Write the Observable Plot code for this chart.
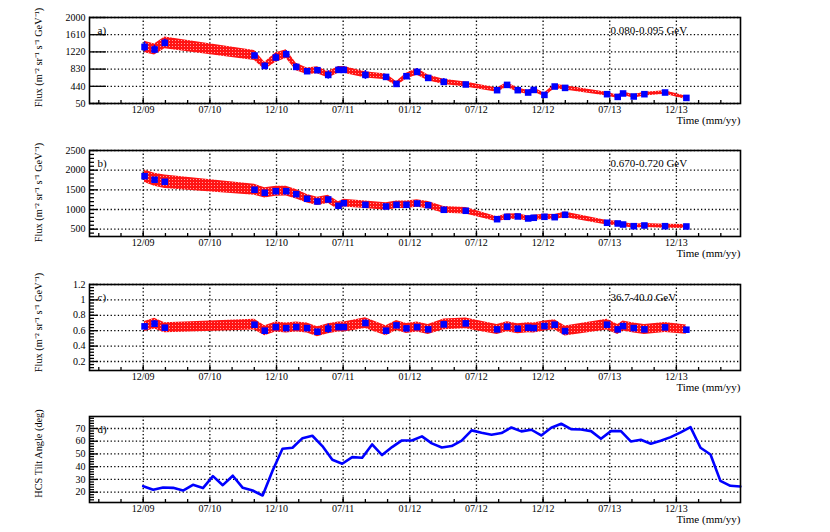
<!DOCTYPE html>
<html><head><meta charset="utf-8">
<script src="https://cdn.jsdelivr.net/npm/d3@7"></script>
<script src="https://cdn.jsdelivr.net/npm/@observablehq/plot@0.6"></script>
<style>
body{margin:0;background:#fff}
#c{position:relative;width:830px;height:532px;overflow:hidden}
#c svg.p{position:absolute;left:0}
</style>
</head><body>
<svg width="0" height="0" style="position:absolute">
<defs>
<pattern id="redpat" patternUnits="userSpaceOnUse" width="3" height="3">
<rect width="3" height="3" fill="#ff1414"/>
<rect x="1" y="1" width="1" height="1" fill="#ffa0a0"/>
</pattern>
</defs>
</svg>
<div id="c"></div>
<script>
// ---- axes ----
const xTickPos = [2010, 2010.5, 2011, 2011.5, 2012, 2012.5, 2013, 2013.5, 2014];
const xTickLabels = ["12/09","07/10","12/10","07/11","01/12","07/12","12/12","07/13","12/13"];
const xDomain = [2009.597, 2014.481];

// ---- flux data (time in decimal years) ----
const fluxTimes = [2010.010,2010.085,2010.162,2010.835,2010.912,2010.995,2011.073,2011.148,2011.230,2011.307,2011.388,2011.465,2011.505,2011.667,2011.822,2011.900,2011.975,2012.055,2012.138,2012.255,2012.420,2012.655,2012.730,2012.810,2012.888,2012.930,2013.010,2013.087,2013.165,2013.480,2013.560,2013.600,2013.680,2013.760,2013.915,2014.075];

const fluxA = [1333,1274,1424,1138,902,1093,1168,880,782,805,698,812,812,698,653,494,669,766,630,540,481,352,472,352,299,358,245,435,404,261,200,277,209,261,299,177];
const bandA = [130,125,135,115,85,105,100,85,75,78,70,78,78,70,66,55,65,75,65,60,55,48,55,48,45,48,42,50,48,42,38,42,38,42,42,36];
const errA  = [110,95,80,70,70,85,80,70,60,60,95,70,70,100,50,40,50,80,50,75,40,25,30,25,25,25,25,30,30,25,25,25,25,25,25,20];

const fluxB = [1847,1756,1705,1502,1425,1466,1466,1390,1273,1204,1255,1095,1161,1120,1077,1120,1120,1153,1110,993,968,754,815,823,772,790,815,805,866,663,645,619,576,594,576,569];
const bandB = [160,165,170,140,130,128,125,120,110,105,105,100,98,95,95,95,95,95,92,85,80,65,68,68,66,66,66,66,68,55,55,53,52,52,52,51];
const errB  = [40,40,35,35,35,35,35,30,30,30,30,30,30,30,30,30,30,30,30,25,25,20,20,20,20,20,20,20,20,18,18,18,18,18,18,18];

const fluxC = [0.656,0.691,0.639,0.678,0.600,0.647,0.634,0.647,0.634,0.587,0.626,0.647,0.647,0.699,0.600,0.669,0.630,0.647,0.617,0.682,0.695,0.617,0.652,0.626,0.639,0.634,0.660,0.678,0.595,0.678,0.617,0.660,0.634,0.617,0.643,0.613];
const bandC = [0.065,0.07,0.065,0.07,0.065,0.065,0.065,0.065,0.065,0.065,0.065,0.065,0.065,0.07,0.065,0.065,0.065,0.065,0.065,0.07,0.07,0.065,0.065,0.065,0.065,0.065,0.065,0.065,0.065,0.07,0.065,0.065,0.065,0.065,0.065,0.06];
const errC  = [0.03,0.04,0.02,0.03,0.03,0.03,0.02,0.02,0.02,0.03,0.06,0.03,0.03,0.04,0.02,0.03,0.03,0.03,0.02,0.04,0.03,0.02,0.02,0.02,0.02,0.02,0.02,0.03,0.03,0.03,0.03,0.03,0.02,0.03,0.03,0.02];

// ---- HCS tilt angle (one value per Carrington rotation) ----
const tiltTimes = [2010.000,2010.075,2010.149,2010.224,2010.299,2010.373,2010.448,2010.523,2010.597,2010.672,2010.747,2010.821,2010.896,2010.971,2011.045,2011.120,2011.195,2011.269,2011.344,2011.419,2011.493,2011.568,2011.643,2011.717,2011.792,2011.867,2011.941,2012.016,2012.091,2012.165,2012.240,2012.314,2012.389,2012.464,2012.538,2012.613,2012.688,2012.762,2012.837,2012.912,2012.986,2013.061,2013.136,2013.210,2013.285,2013.360,2013.434,2013.509,2013.584,2013.658,2013.733,2013.808,2013.882,2013.957,2014.032,2014.106,2014.181,2014.256,2014.330,2014.405,2014.480];
const tiltValues = [24.7,21.9,23.7,23.4,21.3,25.8,23.2,32.6,25.5,32.9,23.4,21.3,17.4,37.0,54.1,54.9,62.4,64.3,56.2,45.4,42.3,47.5,47.0,57.5,49.1,55.4,60.6,60.6,63.8,58.3,55.1,56.2,60.4,68.5,66.6,65.1,66.4,70.8,67.7,69.0,64.5,70.6,73.7,69.5,69.2,67.9,61.9,67.9,67.9,59.8,61.1,58.0,60.4,63.2,66.9,71.1,54.9,49.6,28.9,25.0,24.5];

const rows = (vals, band, err) => fluxTimes.map((t, i) => ({t, v: vals[i], b: band[i], e: err[i]}));
const tiltRows = tiltTimes.map((t, i) => ({t, v: tiltValues[i]}));

const xMinor = d3.range(2009.6667, 2014.45, 1/6);
const BLUE = "#0000ff";
const FONT = "'Liberation Serif', 'Times New Roman', serif";

function panel({top, yDomain, yTicks, yMinor, majorLen, marks, yLabel, yLabelDy, tag, energy}) {
  const W = 830, H = 133, mT = 17, mB = 30, mL = 89, mR = 90;
  const fh = H - mT - mB, fw = W - mL - mR;
  const xs = (xDomain[1] - xDomain[0]) / fw;
  const ys = (yDomain[1] - yDomain[0]) / fh;
  const tk = {stroke: "black", strokeWidth: 1.3};
  const grid = {stroke: "black", strokeOpacity: 1, strokeWidth: 1.3, strokeDasharray: "1.3,2.3"};
  const svg = Plot.plot({
    width: W, height: H, marginTop: mT, marginBottom: mB, marginLeft: mL, marginRight: mR,
    x: {domain: xDomain, label: null},
    y: {domain: yDomain, label: null},
    style: {fontFamily: FONT, fontSize: "10px", color: "black", background: "transparent"},
    marks: [
      Plot.gridX(xTickPos, grid),
      Plot.gridY(yTicks, grid),
      ...marks,
      Plot.ruleY(yTicks, {x1: xDomain[0], x2: xDomain[0] + majorLen * xs, ...tk}),
      yMinor ? Plot.ruleY(yMinor, {x1: xDomain[0], x2: xDomain[0] + 5 * xs, ...tk}) : null,
      Plot.ruleX(xTickPos, {y1: yDomain[0], y2: yDomain[0] + 5 * ys, ...tk}),
      Plot.ruleX(xMinor, {y1: yDomain[0], y2: yDomain[0] + 3 * ys, ...tk}),
      Plot.axisX(xTickPos, {tickSize: 0, tickPadding: 2, fontSize: 10, label: null, fontFamily: FONT,
        tickFormat: d => xTickLabels[xTickPos.indexOf(d)]}),
      Plot.axisY(yTicks, {tickSize: 0, tickPadding: 4, fontSize: 10, label: null, fontFamily: FONT, tickFormat: d => String(d)}),
      Plot.text([yLabel], {frameAnchor: "left", textAnchor: "middle", rotate: -90, dx: -51, dy: yLabelDy, fontSize: 10.3, fill: "black", fontFamily: FONT}),
      Plot.text(["Time (mm/yy)"], {frameAnchor: "bottom-right", textAnchor: "end", lineAnchor: "top", dy: 13, fontSize: 11, fill: "black", fontFamily: FONT}),
      Plot.text([tag], {frameAnchor: "top-left", textAnchor: "start", lineAnchor: "top", dx: 8, dy: 9, fontSize: 11, fill: "black", fontFamily: FONT}),
      energy ? Plot.text([energy], {frameAnchor: "top-left", textAnchor: "start", lineAnchor: "top", dx: 521, dy: 8.5, fontSize: 11, fill: "black", fontFamily: FONT}) : null,
      Plot.frame({stroke: "black", strokeWidth: 1.6})
    ]
  });
  svg.classList.add("p");
  svg.style.top = top + "px";
  document.getElementById("c").appendChild(svg);
}

function fluxMarks(data) {
  return [
    Plot.areaY(data, {x: "t", y1: d => d.v - d.b, y2: d => d.v + d.b, fill: "url(#redpat)"}),
    Plot.ruleX(data, {x: "t", y1: d => d.v - d.e, y2: d => d.v + d.e, stroke: BLUE, strokeWidth: 1.6}),
    Plot.dot(data, {x: "t", y: "v", symbol: "square", r: 3.7, fill: BLUE, stroke: null})
  ];
}

const fluxLabel = "Flux (m\u207B\u00B2 sr\u207B\u00B9 s\u207B\u00B9 GeV\u207B\u00B9)";

panel({top: 0, yDomain: [50, 2000], yTicks: [50, 440, 830, 1220, 1610, 2000], yMinor: null, majorLen: 17,
  marks: fluxMarks(rows(fluxA, bandA, errA)), yLabel: fluxLabel, yLabelDy: -3, tag: "a)", energy: "0.080-0.095 GeV"});

panel({top: 133, yDomain: [314, 2500], yTicks: [500, 1000, 1500, 2000, 2500], yMinor: d3.range(400, 2500, 100), majorLen: 9,
  marks: fluxMarks(rows(fluxB, bandB, errB)), yLabel: fluxLabel, yLabelDy: -1, tag: "b)", energy: "0.670-0.720 GeV"});

panel({top: 267, yDomain: [0.083, 1.2], yTicks: [0.2, 0.4, 0.6, 0.8, 1, 1.2], yMinor: d3.range(0.12, 1.2, 0.04), majorLen: 9,
  marks: fluxMarks(rows(fluxC, bandC, errC)), yLabel: fluxLabel, yLabelDy: -5, tag: "c)", energy: "36.7-40.0 GeV"});

panel({top: 399, yDomain: [11.9, 79.4], yTicks: [20, 30, 40, 50, 60, 70], yMinor: d3.range(14, 80, 2), majorLen: 9,
  marks: [Plot.line(tiltRows, {x: "t", y: "v", stroke: BLUE, strokeWidth: 2.6})],
  yLabel: "HCS Tilt Angle (deg)", yLabelDy: -6, tag: "d)", energy: null});
</script>
</body></html>
